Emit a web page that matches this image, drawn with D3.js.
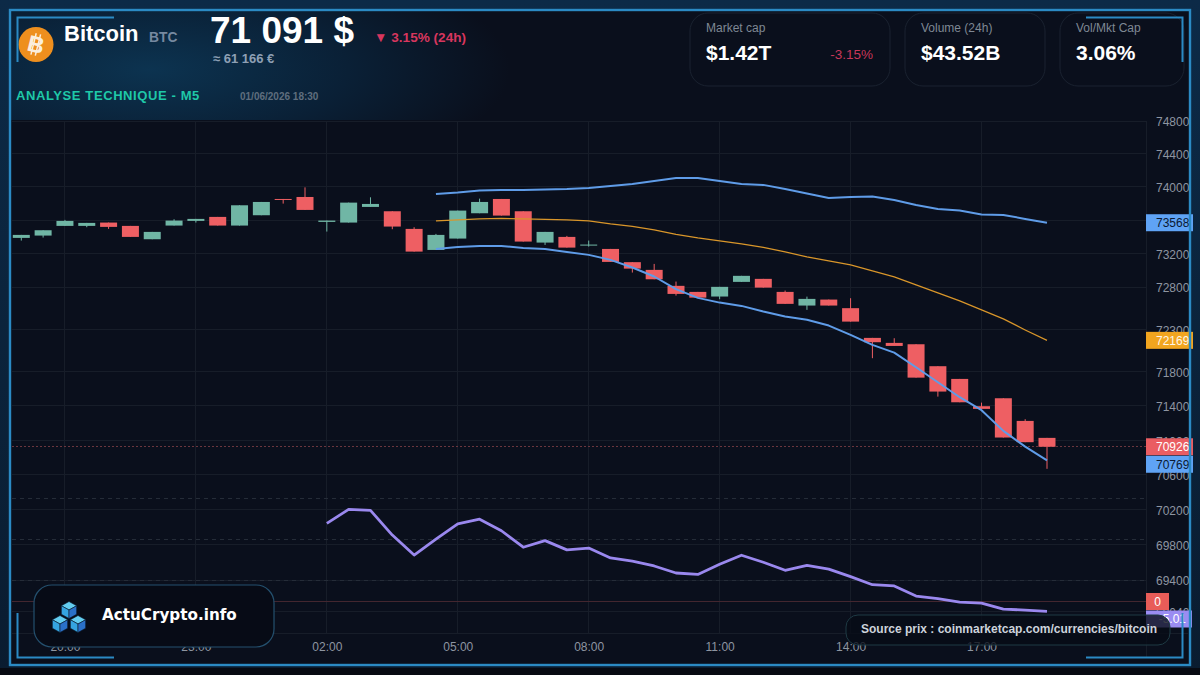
<!DOCTYPE html>
<html lang="fr">
<head>
<meta charset="utf-8">
<title>Bitcoin - Analyse technique</title>
<script src="https://cdn.jsdelivr.net/npm/d3@7"></script>
<style>
  html, body { margin: 0; padding: 0; background: #070a12; }
  svg { display: block; }
  text { font-family: "Liberation Sans", Arial, sans-serif; }
</style>
</head>
<body>
<svg id="chart" width="1200" height="675"></svg>
<script>
// Half-hourly candles, one row per bar: open, high, low, close
const candleOpen = [73386,73414,73530,73530,73570,73530,73370,73534,73590,73638,73534,73658,73854,73878,73578,73570,73758,73706,73494,73242,73378,73682,73854,73706,73330,73398,73300,73254,73096,73004,72814,72742,72687,72861,72897,72742,72580,72651,72549,72198,72139,72123,71865,71716,71397,71490,71226,71029];
const candleHigh = [73422,73478,73602,73566,73570,73530,73458,73610,73614,73638,73778,73818,73854,73994,73594,73810,73874,73706,73514,73434,73714,73858,73854,73706,73458,73410,73354,73254,73096,73075,72865,72742,72802,72933,72897,72758,72686,72651,72667,72198,72194,72123,71865,71716,71439,71490,71246,71029];
const candleLow = [73354,73390,73530,73514,73494,73398,73370,73534,73570,73534,73534,73658,73798,73722,73462,73570,73758,73490,73222,73242,73378,73682,73654,73342,73302,73270,73282,73099,72972,72892,72698,72674,72655,72861,72793,72600,72529,72580,72390,71959,72103,71731,71509,71443,71366,71033,70979,70671];
const candleClose = [73422,73478,73590,73566,73518,73398,73458,73594,73614,73534,73778,73818,73846,73722,73594,73810,73794,73522,73222,73422,73714,73818,73654,73342,73458,73270,73306,73099,73019,72892,72718,72674,72802,72933,72793,72600,72659,72580,72390,72147,72103,71731,71568,71443,71366,71033,70979,70926];

// Bollinger bands, which begin at the twentieth candle
const bandStart = 19;
const bandUpper = [73915,73933,73957,73963,73963,73969,73975,73987,74011,74036,74072,74108,74108,74072,74036,74024,73975,73921,73866,73878,73884,73842,73782,73734,73716,73668,73662,73614,73568];
const bandMiddle = [73590,73602,73614,73620,73614,73608,73602,73590,73554,73524,73482,73428,73386,73350,73314,73272,73218,73159,73111,73064,72992,72921,72826,72730,72635,72529,72422,72292,72169];
const bandLower = [73254,73278,73290,73290,73266,73254,73218,73183,73123,73032,72925,72775,72671,72615,72576,72509,72450,72411,72343,72234,72115,72024,71853,71677,71502,71351,71110,70928,70769];

// Oscillator on its own scale, beginning at the fifteenth candle
const oscStart = 14;
const oscValues = [37.7,44.5,44.0,32.0,22.3,30.0,37.4,39.7,34.1,26.1,29.3,24.8,25.7,20.9,19.4,17.0,13.6,12.9,17.8,22.2,18.8,14.9,17.3,15.5,11.8,7.9,7.3,2.4,1.1,-0.5,-1.0,-3.9,-4.4,-5.01];
const oscLevels = [50, 30, 10];

// Axis ticks; the 73600 grid line has its label under the upper band tag
const priceTicks = [74800,74400,74000,73600,73200,72800,72300,71800,71400,71000,70600,70200,69800,69400,69040];
const unlabelledTicks = [73600];
const timeIndex = [2,8,14,20,26,32,38,44];
const timeLabels = ["20:00","23:00","02:00","05:00","08:00","11:00","14:00","17:00"];

// Header and statistics text
const statLabels = ["Market cap","Volume (24h)","Vol/Mkt Cap"];
const statValues = ["$1.42T","$43.52B","3.06%"];

const svg = d3.select("#chart");
const plot = { left: 0, right: 1146, top: 121, bottom: 633 };

const x = d3.scaleLinear().domain([0, 47]).range([21.3, 1047]);
const y = d3.scaleLog().domain([74800, 69400]).range([121, 580]);
const yOsc = d3.scaleLinear().domain([0, 50]).range([601, 498]);

const defs = svg.append("defs");
const glow = defs.append("radialGradient").attr("id", "headerGlow")
  .attr("gradientUnits", "userSpaceOnUse")
  .attr("cx", 150).attr("cy", 70).attr("r", 360)
  .attr("gradientTransform", "translate(0 45) scale(1 0.35)");
glow.append("stop").attr("offset", 0).attr("stop-color", "#0c3350");
glow.append("stop").attr("offset", 0.55).attr("stop-color", "#0a2036");
glow.append("stop").attr("offset", 1).attr("stop-color", "#0a0f1c");

const edge = defs.append("linearGradient").attr("id", "edgeFill").attr("x1", 0).attr("x2", 0).attr("y1", 0).attr("y2", 1);
edge.append("stop").attr("offset", 0).attr("stop-color", "#0c2a47");
edge.append("stop").attr("offset", 1).attr("stop-color", "#0a1c30");

// Page, outer band and inner panel
svg.append("rect").attr("width", 1200).attr("height", 675).attr("fill", "url(#edgeFill)");
svg.append("rect").attr("x", 0).attr("y", 668).attr("width", 1200).attr("height", 7).attr("fill", "#070a12");
svg.append("rect").attr("x", 10).attr("y", 10).attr("width", 1180).attr("height", 655).attr("fill", "#0a0f1c");
svg.append("rect").attr("x", 10).attr("y", 10).attr("width", 640).attr("height", 110).attr("fill", "url(#headerGlow)");

// Grid
const grid = svg.append("g").attr("stroke", "#171d29").attr("stroke-width", 1).attr("shape-rendering", "crispEdges");
grid.selectAll("line.h").data(priceTicks).join("line").attr("class", "h")
  .attr("x1", 12).attr("x2", plot.right).attr("y1", d => y(d)).attr("y2", d => y(d));
grid.selectAll("line.v").data(timeIndex).join("line").attr("class", "v")
  .attr("x1", d => x(d)).attr("x2", d => x(d)).attr("y1", plot.top).attr("y2", plot.bottom);
grid.append("line").attr("x1", 12).attr("x2", 1188).attr("y1", plot.bottom).attr("y2", plot.bottom);
grid.append("line").attr("x1", plot.right).attr("x2", plot.right).attr("y1", plot.top).attr("y2", 657);

// Oscillator reference levels
svg.append("g").selectAll("line").data(oscLevels).join("line")
  .attr("x1", 12).attr("x2", plot.right)
  .attr("y1", d => yOsc(d)).attr("y2", d => yOsc(d))
  .attr("stroke", "#252c38").attr("stroke-width", 1).attr("stroke-dasharray", "4 4")
  .attr("shape-rendering", "crispEdges");
svg.append("line").attr("x1", 12).attr("x2", plot.right)
  .attr("y1", yOsc(0)).attr("y2", yOsc(0))
  .attr("stroke", "#43262f").attr("stroke-width", 1).attr("shape-rendering", "crispEdges");

// Last price line
const lastClose = candleClose[candleClose.length - 1];
svg.append("line").attr("x1", 12).attr("x2", plot.right)
  .attr("y1", y(lastClose)).attr("y2", y(lastClose))
  .attr("stroke", "#6a363e").attr("stroke-width", 1).attr("stroke-dasharray", "2 2")
  .attr("shape-rendering", "crispEdges");

// Candles
const candles = d3.range(candleOpen.length).map(i => ({
  i, o: candleOpen[i], h: candleHigh[i], l: candleLow[i], c: candleClose[i]
}));
const green = "#70b6a5", red = "#ee5f63", bodyWidth = 17;
const bars = svg.append("g").selectAll("g").data(candles).join("g")
  .attr("fill", d => d.c >= d.o ? green : red)
  .attr("stroke", d => d.c >= d.o ? green : red);
bars.append("line")
  .attr("x1", d => x(d.i)).attr("x2", d => x(d.i))
  .attr("y1", d => y(d.h)).attr("y2", d => y(d.l))
  .attr("stroke-width", 1);
bars.append("rect")
  .attr("stroke", "none")
  .attr("x", d => x(d.i) - bodyWidth / 2)
  .attr("width", bodyWidth)
  .attr("y", d => y(Math.max(d.o, d.c)))
  .attr("height", d => Math.max(1, y(Math.min(d.o, d.c)) - y(Math.max(d.o, d.c))));

// Bands and oscillator
const bandLine = d3.line().x((d, i) => x(i + bandStart)).y(d => y(d));
const oscLine = d3.line().x((d, i) => x(i + oscStart)).y(d => yOsc(d));
function addPath(gen, values, color, width) {
  svg.append("path").datum(values).attr("d", gen).attr("fill", "none")
    .attr("stroke", color).attr("stroke-width", width).attr("stroke-linejoin", "round");
}
addPath(bandLine, bandUpper, "#5f9ce8", 2);
addPath(bandLine, bandLower, "#5f9ce8", 2);
addPath(bandLine, bandMiddle, "#d9962a", 1.2);
addPath(oscLine, oscValues, "#9a88ee", 2.8);

// Price and time axes
const yAxis = svg.append("g").attr("transform", `translate(${plot.right},0)`)
  .call(d3.axisRight(y).tickValues(priceTicks)
    .tickFormat(d => unlabelledTicks.includes(d) ? "" : d3.format("d")(d))
    .tickSize(0).tickPadding(10));
yAxis.select(".domain").remove();
yAxis.selectAll("text").attr("fill", "#8e95a1").attr("font-size", 12)
  .attr("font-family", "Liberation Sans").attr("dy", "0.4em");

const xAxis = svg.append("g").attr("transform", `translate(0,${plot.bottom})`)
  .call(d3.axisBottom(x).tickValues(timeIndex).tickFormat((d, i) => timeLabels[i]).tickSize(0).tickPadding(9));
xAxis.select(".domain").remove();
xAxis.selectAll("text").attr("fill", "#8e95a1").attr("font-size", 12).attr("font-family", "Liberation Sans");

// Value tags on the price axis
function tag(cy, w, fill, textFill, text, inset) {
  svg.append("rect").attr("x", plot.right).attr("y", cy - 8.5).attr("width", w).attr("height", 17).attr("fill", fill);
  svg.append("text").attr("x", w > 30 ? plot.right + inset : plot.right + w / 2).attr("y", cy + 4.3)
    .attr("text-anchor", w > 30 ? "start" : "middle")
    .attr("font-size", 12).attr("fill", textFill).text(text);
}
const lastUpper = bandUpper[bandUpper.length - 1];
const lastMiddle = bandMiddle[bandMiddle.length - 1];
const lastLower = bandLower[bandLower.length - 1];
tag(y(lastUpper), 47, "#5fa3f5", "#0b1a33", lastUpper, 10);
tag(y(lastMiddle), 47, "#f2a51f", "#fff6e6", lastMiddle, 10);
tag(y(lastClose), 47, "#ea5d62", "#ffffff", lastClose, 10);
tag(y(lastClose) + 17.5, 47, "#5fa3f5", "#0b1a33", lastLower, 10);
tag(yOsc(0) + 0.5, 23, "#e85c58", "#ffffff", 0, 0);
tag(yOsc(0) + 18, 46, "#9a8cf2", "#ffffff", oscValues[oscValues.length - 1], 12.7);

// Header
const coin = svg.append("g");
coin.append("circle").attr("cx", 36).attr("cy", 44.5).attr("r", 17.5).attr("fill", "#ee8f1e");
const coinMark = coin.append("g").attr("transform", "translate(36 44.5) rotate(14)");
coinMark.append("text").attr("text-anchor", "middle").attr("y", 8).attr("font-size", 23)
  .attr("font-weight", 700).attr("fill", "#fbeedd").text("B");
coinMark.selectAll("line").data([-2.5, 2]).join("line")
  .attr("x1", d => d).attr("x2", d => d).attr("y1", -11).attr("y2", 11)
  .attr("stroke", "#fbeedd").attr("stroke-width", 1.5);

function label(tx, ty, size, weight, color, content, anchor, spacing) {
  return svg.append("text").attr("x", tx).attr("y", ty).attr("font-size", size)
    .attr("font-weight", weight).attr("fill", color)
    .attr("text-anchor", anchor || "start")
    .attr("letter-spacing", spacing || 0).text(content);
}
label(64, 41, 22, 700, "#ffffff", "Bitcoin");
label(149, 42, 13.8, 700, "#7689a0", "BTC");
label(210, 43, 37, 700, "#ffffff", "71 091 $");
label(213, 63, 13, 700, "#8ea0b5", "≈ 61 166 €");
label(374, 42, 13.6, 700, "#d8365e", "▼ 3.15% (24h)");
label(16, 99.5, 13, 700, "#1fc8a8", "ANALYSE TECHNIQUE - M5", "start", 0.6);
label(240, 100, 10, 700, "#5f6e7e", "01/06/2026 18:30");

// Statistic cards
const cardX = [690, 905, 1060];
const cardW = [200, 140, 124];
statLabels.forEach((name, i) => {
  svg.append("rect").attr("x", cardX[i]).attr("y", 13).attr("width", cardW[i]).attr("height", 73)
    .attr("rx", 18).attr("fill", "#0a0f1c").attr("stroke", "#1a2230");
  label(cardX[i] + 16, 32, 12, 400, "#7f8894", name);
  label(cardX[i] + 16, 60, 21, 700, "#ffffff", statValues[i]);
});
label(873, 59, 13.5, 400, "#c8375a", "-3.15%", "end");

// Site badge
svg.append("rect").attr("x", 34).attr("y", 585).attr("width", 240).attr("height", 62).attr("rx", 18)
  .attr("fill", "#070b16").attr("stroke", "#24506e").attr("stroke-width", 1.2);
const cubeTop = "#63cdf0", cubeLeft = "#35a4e0", cubeRight = "#2a70c8";
function cube(cx, cy, s) {
  const g = svg.append("g").attr("stroke", "#0a1a2c").attr("stroke-width", 0.6);
  g.append("polygon").attr("fill", cubeTop)
    .attr("points", [[cx, cy - s], [cx + s * 0.9, cy - s * 0.5], [cx, cy], [cx - s * 0.9, cy - s * 0.5]].join(" "));
  g.append("polygon").attr("fill", cubeLeft)
    .attr("points", [[cx - s * 0.9, cy - s * 0.5], [cx, cy], [cx, cy + s], [cx - s * 0.9, cy + s * 0.5]].join(" "));
  g.append("polygon").attr("fill", cubeRight)
    .attr("points", [[cx + s * 0.9, cy - s * 0.5], [cx, cy], [cx, cy + s], [cx + s * 0.9, cy + s * 0.5]].join(" "));
}
cube(69, 610, 8.5);
cube(60, 624, 8.5);
cube(78, 624, 8.5);
svg.append("text").attr("x", 102).attr("y", 619.5).attr("font-size", 15.2).attr("font-weight", 700)
  .attr("fill", "#ffffff").style("font-family", "DejaVu Sans").text("ActuCrypto.info");

// Source badge
svg.append("rect").attr("x", 846).attr("y", 615).attr("width", 324).attr("height", 30).attr("rx", 12)
  .attr("fill", "#070b16").attr("fill-opacity", 0.78).attr("stroke", "#1e3a44");
label(861, 633, 12, 700, "#cdd3dc", "Source prix : coinmarketcap.com/currencies/bitcoin");

// Frame and corner brackets
const frameBlue = "#2b8ac4";
svg.append("rect").attr("x", 10).attr("y", 10).attr("width", 1180).attr("height", 655)
  .attr("fill", "none").attr("stroke", frameBlue).attr("stroke-width", 2.4);
const brackets = [
  [[114, 17.5], [17.5, 17.5], [17.5, 62]],
  [[1086, 17.5], [1182.5, 17.5], [1182.5, 62]],
  [[17.5, 613], [17.5, 657.5], [114, 657.5]],
  [[1086, 657.5], [1182.5, 657.5], [1182.5, 613]]
];
svg.append("g").selectAll("path").data(brackets).join("path")
  .attr("d", d3.line()).attr("fill", "none").attr("stroke", frameBlue).attr("stroke-width", 2);
</script>
</body>
</html>
